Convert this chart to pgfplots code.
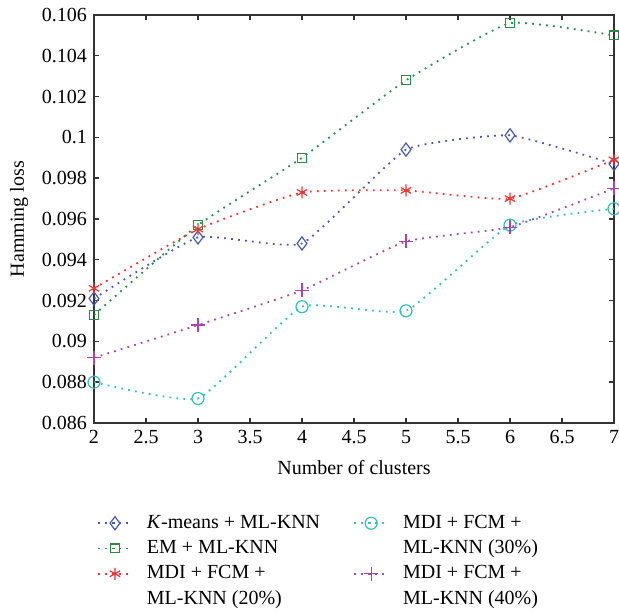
\documentclass[border=0pt]{standalone}
\usepackage{fontspec}
\setmainfont{Liberation Serif}
\usepackage{pgfplots}
\pgfplotsset{compat=1.18}
\definecolor{cblue}{RGB}{68,90,178}
\definecolor{cgreen}{RGB}{40,140,70}
\definecolor{cred}{RGB}{240,50,50}
\definecolor{ccyan}{RGB}{50,190,190}
\definecolor{cmag}{RGB}{170,70,170}
\tikzset{dots/.style={dash pattern=on 0.9pt off 2.6pt, line width=0.9pt}}
\begin{document}
\begin{tikzpicture}
\begin{axis}[
  scale only axis, width=260pt, height=204pt,
  xmin=2, xmax=7, ymin=0.086, ymax=0.106,
  xtick={2,2.5,...,7}, ytick={0.086,0.088,...,0.1061},
  scaled y ticks=false,
  yticklabel style={/pgf/number format/fixed,/pgf/number format/precision=3},
  /pgf/number format/assume math mode=true,
  tick align=inside, major tick length=2.5pt,
  axis line style={black!80, line width=0.7pt},
  every tick/.style={black!80, line width=0.7pt},
  font=\fontsize{10}{12}\selectfont,
  xlabel={Number of clusters}, ylabel={Hamming loss},
  xlabel style={yshift=-1.5pt},
  every axis plot/.append style={dots, smooth, tension=0.25},
  legend style={draw=none, at={(0.005,-0.2150)}, anchor=north west,
    font=\fontsize{10}{12}\selectfont, inner sep=0pt,
    /tikz/every odd column/.append style={column sep=5pt},
    /tikz/every even column/.append style={column sep=14.5pt},
    row sep=0.35pt},
  legend cell align=left,
  legend columns=2,
]
\addplot[cblue, mark=diamond, mark size=3.3pt, mark options={solid, line width=0.6pt}, forget plot]
 coordinates {(2,0.0921)(3,0.0951)(4,0.0948)(5,0.0994)(6,0.1001)(7,0.0987)};
\addplot[cgreen, mark=square, mark size=2.2pt, mark options={solid, line width=0.6pt}, forget plot]
 coordinates {(2,0.0913)(3,0.0957)(4,0.0990)(5,0.1028)(6,0.1056)(7,0.1050)};
\addplot[cred, mark=asterisk, mark size=3pt, mark options={solid, line width=0.6pt}, forget plot]
 coordinates {(2,0.0926)(3,0.0955)(4,0.0973)(5,0.0974)(6,0.0970)(7,0.0989)};
\addplot[ccyan, mark=o, mark size=3pt, mark options={solid, line width=0.6pt}, forget plot]
 coordinates {(2,0.0880)(3,0.0872)(4,0.0917)(5,0.0915)(6,0.0957)(7,0.0965)};
\addplot[cmag, mark=+, mark size=3.5pt, mark options={solid, line width=0.6pt}, forget plot]
 coordinates {(2,0.0892)(3,0.0908)(4,0.0925)(5,0.0949)(6,0.0956)(7,0.0975)};
% legend, two columns, two-line entries split over rows
\addlegendimage{cblue, dots, mark=diamond, mark size=3.3pt, mark options={solid, line width=0.6pt}}
\addlegendentry{\textit{K}-means + ML-KNN}
\addlegendimage{ccyan, dots, mark=o, mark size=3pt, mark options={solid, line width=0.6pt}}
\addlegendentry{MDI + FCM +}
\addlegendimage{cgreen, dots, mark=square, mark size=2.2pt, mark options={solid, line width=0.6pt}}
\addlegendentry{EM + ML-KNN}
\addlegendimage{empty legend}
\addlegendentry{ML-KNN (30\%)}
\addlegendimage{cred, dots, mark=asterisk, mark size=3pt, mark options={solid, line width=0.6pt}}
\addlegendentry{MDI + FCM +}
\addlegendimage{cmag, dots, mark=+, mark size=3.5pt, mark options={solid, line width=0.6pt}}
\addlegendentry{MDI + FCM +}
\addlegendimage{empty legend}
\addlegendentry{ML-KNN (20\%)}
\addlegendimage{empty legend}
\addlegendentry{ML-KNN (40\%)}
\end{axis}
\pgfresetboundingbox
\path[use as bounding box] ([xshift=-47pt,yshift=7.5pt]current axis.north west)
  rectangle ([xshift=2.5pt,yshift=-94.5pt]current axis.south east);
\end{tikzpicture}
\end{document}
